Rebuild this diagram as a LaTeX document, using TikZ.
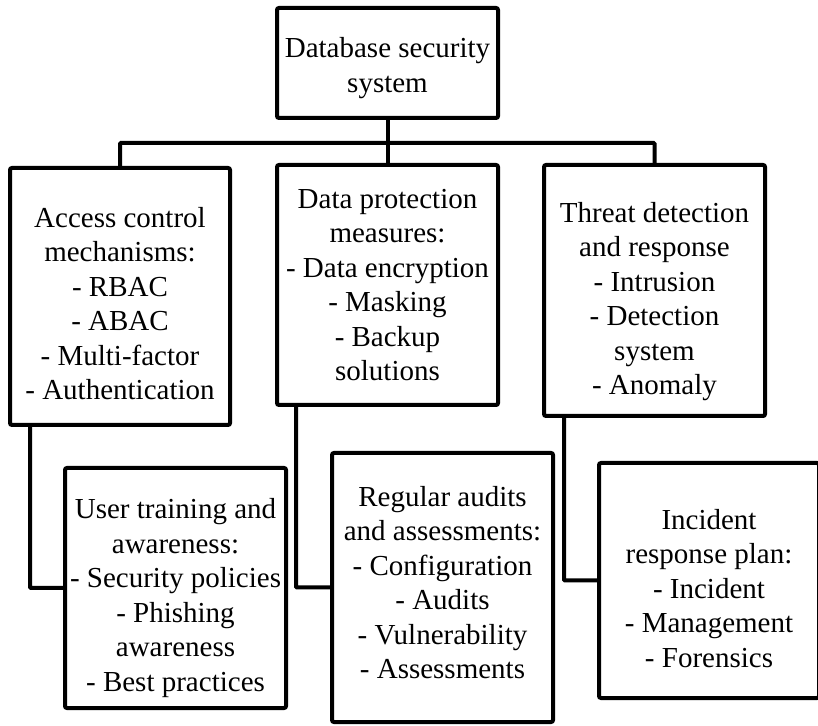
\documentclass[tikz,border=0pt]{standalone}
\usepackage{fontspec}
\setmainfont{Liberation Serif}
\usepackage{tikz}
\usetikzlibrary{calc}
\tikzstyle{bloc} = [
    rectangle,
    rounded corners = 2pt,
    inner sep = 0pt,
    align = center,
    line width = 4pt,
    draw = black,
    font = \fontsize{29}{34.5}\selectfont,
]
\tikzstyle{lien} = [line width = 4pt, rounded corners = 1pt]
% pousse le texte vers le bas / le haut dans la boite
\newcommand{\hautligne}[1]{\rule{0pt}{#1pt}}
\newcommand{\basligne}[1]{\rule[-#1pt]{0pt}{0pt}}

\begin{document}
\begin{tikzpicture} [x = 1pt, y = 1pt]
    \useasboundingbox (0,0) rectangle (818,725);

    \node (system) [bloc, minimum width = 221pt, minimum height = 110pt] at (387.5,662) {\hautligne{30}Database security\\system};

    \node (access) [bloc, minimum width = 220pt, minimum height = 257pt] at (120,428.5) {\hautligne{34}Access control\\mechanisms:\\- RBAC\\- ABAC\\- Multi-factor\\- Authentication};
    \node (protection) [bloc, minimum width = 221pt, minimum height = 240pt] at (387.5,440) {Data protection\\measures:\\- Data encryption\\- Masking\\- Backup\\solutions};
    \node (threat) [bloc, minimum width = 221pt, minimum height = 251pt] at (654.5,434.5) {\hautligne{42}Threat detection\\and response\\- Intrusion\\- Detection\\system\\- Anomaly};

    \node (training) [bloc, minimum width = 221pt, minimum height = 240pt] at (175.5,137) {\hautligne{40}User training and\\awareness:\\- Security policies\\- Phishing\\awareness\\- Best practices};
    \node (audits) [bloc, minimum width = 221pt, minimum height = 269pt] at (442.5,137.5) {Regular audits\\and assessments:\\- Configuration\\- Audits\\- Vulnerability\\- Assessments\basligne{10}};
    \node (incident) [bloc, minimum width = 220pt, minimum height = 235pt] at (709,144.5) {\hautligne{36}Incident\\response plan:\\- Incident\\- Management\\- Forensics};

    \coordinate (bus) at (387.5,582);

    \draw[lien] (system) -- (protection);
    \draw[lien] (access) |- (bus) -| (threat);
    \draw[lien] ([xshift = 22pt]access.south west) |- (training.west);
    \draw[lien] ([xshift = 21pt]protection.south west) |- (audits.west);
    \draw[lien] ([xshift = 22pt]threat.south west) |- (incident.west);
\end{tikzpicture}
\end{document}
